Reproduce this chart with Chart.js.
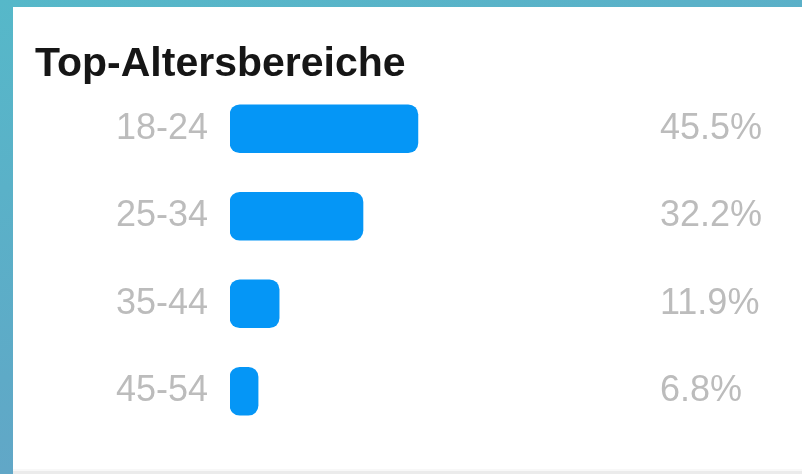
<!DOCTYPE html>
<html lang="de">
<head>
<meta charset="utf-8">
<title>Top-Altersbereiche</title>
<script src="https://cdn.jsdelivr.net/npm/chart.js@4.4.1/dist/chart.umd.min.js"></script>
<style>
  html, body {
    margin: 0;
    padding: 0;
  }
  body {
    width: 802px;
    height: 474px;
    overflow: hidden;
    position: relative;
    background: linear-gradient(165deg, #56b8c9 0%, #5eaac7 55%, #68a0c6 100%);
  }
  .card {
    position: absolute;
    left: 13px;
    top: 7px;
    width: 789px;
    height: 462px;
    background: #ffffff;
  }
  .shelf {
    position: absolute;
    left: 13px;
    top: 469px;
    width: 789px;
    height: 5px;
    background: linear-gradient(#f8f8f8 0, #f8f8f8 2px, #ebebeb 2px);
  }
  canvas {
    display: block;
  }
</style>
</head>
<body>
<div class="card">
  <canvas id="ageChart" width="789" height="462"></canvas>
</div>
<div class="shelf"></div>

<script>
// age ranges, shown top to bottom
const ageGroups = ['18-24', '25-34', '35-44', '45-54'];
// share of audience in percent
const shares = [45.5, 32.2, 11.9, 6.8];
// labels printed on the right side
const shareLabels = ['45.5%', '32.2%', '11.9%', '6.8%'];

const LABEL_FONT = { family: "'Liberation Sans', Arial, sans-serif", size: 36, weight: 'normal' };
const LABEL_COLOR = '#bcbcbc';

// fixed axis width, and no extra room above/below for half labels
function fixAxis(width) {
    return function (scale) {
        scale.width = width;
        scale.paddingTop = 0;
        scale.paddingBottom = 0;
    };
}

function buildChart() {
    const ctx = document.getElementById('ageChart').getContext('2d');

    return new Chart(ctx, {
        type: 'bar',
        data: {
            labels: ageGroups,
            datasets: [{
                data: shares,
                backgroundColor: '#0596f6',
                borderWidth: 0,
                borderRadius: 10,
                borderSkipped: false,
                barThickness: 48,
                yAxisID: 'y'
            }]
        },
        options: {
            indexAxis: 'y',
            responsive: false,
            animation: false,
            devicePixelRatio: 1,
            layout: {
                padding: { left: 22, right: 0, top: 0, bottom: 34 }
            },
            plugins: {
                legend: { display: false },
                tooltip: { enabled: false },
                title: {
                    display: true,
                    text: 'Top-Altersbereiche',
                    align: 'start',
                    color: '#161616',
                    font: { family: "'Liberation Sans', Arial, sans-serif", size: 41, weight: 'bold', lineHeight: 1 },
                    padding: { top: 37, bottom: 0 }
                }
            },
            scales: {
                x: {
                    display: false,
                    min: 0,
                    max: 100
                },
                y: {
                    position: 'left',
                    offset: true,
                    grid: { display: false, drawTicks: false },
                    border: { display: false },
                    ticks: {
                        color: LABEL_COLOR,
                        font: LABEL_FONT,
                        padding: 22
                    },
                    afterFit: fixAxis(195)
                },
                y2: {
                    type: 'category',
                    labels: shareLabels,
                    position: 'right',
                    offset: true,
                    grid: { display: false, drawTicks: false },
                    border: { display: false },
                    ticks: {
                        color: LABEL_COLOR,
                        font: LABEL_FONT,
                        padding: 17
                    },
                    afterFit: fixAxis(159)
                }
            }
        }
    });
}

buildChart();
</script>
</body>
</html>
